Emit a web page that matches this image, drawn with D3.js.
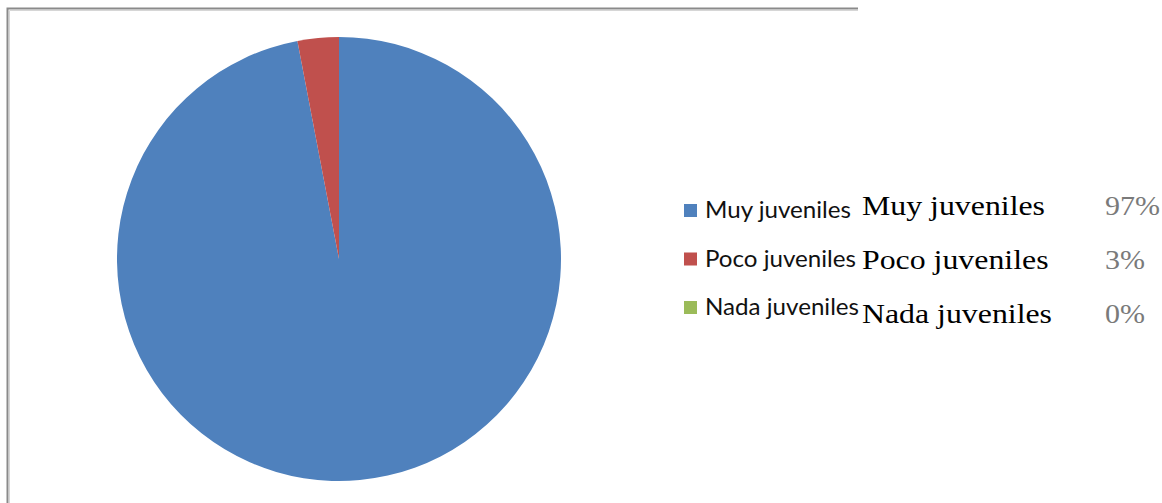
<!DOCTYPE html>
<html>
<head>
<meta charset="utf-8">
<script src="https://cdn.jsdelivr.net/npm/d3@7"></script>
<style>
  body { margin: 0; background: #fff; }
  svg { display: block; }
</style>
</head>
<body>
<script>
// data
const categories = ["Muy juveniles", "Poco juveniles", "Nada juveniles"];
const values = [97, 3, 0];
const pctLabels = ["97%", "3%", "0%"];
const colors = ["#4F81BD", "#C0504D", "#9BBB59"];

const width = 1162, height = 503;
const cx = 339, cy = 259, radius = 222;

const svg = d3.select("body").append("svg")
  .attr("width", width).attr("height", height);

// frame (top and left borders)
svg.append("path")
  .attr("d", "M7.5,503 L7.5,8.5 L858,8.5")
  .attr("fill", "none").attr("stroke", "#8a8a8a").attr("stroke-width", 2);
svg.append("path")
  .attr("d", "M9.5,503 L9.5,10.5 L858,10.5")
  .attr("fill", "none").attr("stroke", "#d6d6d6").attr("stroke-width", 1);

// pie
const pie = d3.pie().sort(null).value(d => d);
const arc = d3.arc().innerRadius(0).outerRadius(radius);

svg.append("g")
  .attr("transform", `translate(${cx},${cy})`)
  .selectAll("path").data(pie(values)).enter().append("path")
  .attr("d", arc)
  .attr("fill", (d, i) => colors[i]);

// stretch text horizontally so the first item has the target width
function stretch(sel, target) {
  const first = sel.node().getComputedTextLength();
  const k = target / first;
  sel.each(function() {
    const w = this.getComputedTextLength();
    d3.select(this).attr("textLength", w * k).attr("lengthAdjust", "spacingAndGlyphs");
  });
}

// legend
const legendY = d3.scalePoint().domain(categories).range([218, 315]);
const legend = svg.append("g");
legend.selectAll("rect").data(categories).enter().append("rect")
  .attr("x", 684).attr("y", d => legendY(d) - 14)
  .attr("width", 13).attr("height", 13)
  .attr("fill", (d, i) => colors[i]);
const legText = legend.selectAll("text").data(categories).enter().append("text")
  .attr("x", 705).attr("y", d => legendY(d))
  .attr("font-family", "Lato, 'Open Sans', sans-serif")
  .attr("font-size", 23)
  .attr("fill", "#111")
  .text(d => d);
stretch(legText, 146);

// table of values beside the legend
const rowY = d3.scalePoint().domain(categories).range([215, 323]);
const table = svg.append("g")
  .attr("font-family", "'Liberation Serif', 'Times New Roman', serif")
  .attr("font-size", 27);
const names = table.selectAll("text.name").data(categories).enter().append("text")
  .attr("class", "name")
  .attr("x", 862).attr("y", d => rowY(d))
  .attr("fill", "#000")
  .text(d => d);
stretch(names, 183);
const pcts = table.selectAll("text.pct").data(pctLabels).enter().append("text")
  .attr("class", "pct")
  .attr("x", 1105).attr("y", (d, i) => rowY(categories[i]))
  .attr("fill", "#7a7a7a")
  .text(d => d);
stretch(pcts, 55);
</script>
</body>
</html>
